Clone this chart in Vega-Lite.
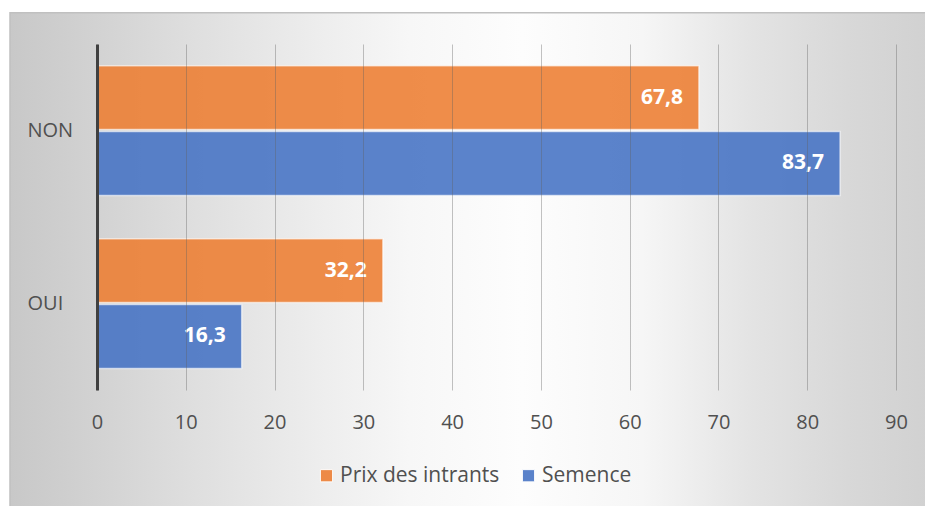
{
  "$schema": "https://vega.github.io/schema/vega-lite/v6.json",
  "width": 799,
  "height": 346,
  "autosize": {"type": "none"},
  "padding": {"left": 97, "top": 44, "right": 29, "bottom": 116},
  "background": "white",
  "config": {
    "font": "Open Sans",
    "locale": {"number": {"decimal": ",", "thousands": "\u00a0", "grouping": [3], "currency": ["", " €"]}},
    "view": {"stroke": null},
    "axisX": {
      "grid": true, "gridColor": "#606060", "gridOpacity": 0.38, "gridWidth": 1,
      "domain": false, "ticks": false, "labelPadding": 22, "labelFontSize": 20, "labelFlush": false,
      "labelColor": "#505050", "title": null
    },
    "axisY": {
      "grid": false, "ticks": false, "domain": true, "domainColor": "#404040", "domainWidth": 3,
      "labelAlign": "left", "labelPadding": 70, "labelFontSize": 20, "labelColor": "#505050",
      "title": null
    },
    "legend": {
      "orient": "none", "legendX": 219, "legendY": 421, "direction": "horizontal", "title": null, "labelFontSize": 21,
      "labelColor": "#505050", "symbolType": "square", "symbolSize": 150, "symbolOpacity": 0.88,
      "symbolStrokeColor": "#ffffff", "symbolStrokeWidth": 1, "columnPadding": 18, "labelOffset": 3
    }
  },
  "datasets": {
    "bars": [
      {"reponse": "NON", "serie": "Prix des intrants", "valeur": 67.8},
      {"reponse": "NON", "serie": "Semence", "valeur": 83.7},
      {"reponse": "OUI", "serie": "Prix des intrants", "valeur": 32.2},
      {"reponse": "OUI", "serie": "Semence", "valeur": 16.3}
    ]
  },
  "layer": [
    {
      "data": {"values": [{}]},
      "mark": {
        "type": "rect", "clip": false, "stroke": "#c0c0c0", "strokeWidth": 1.5,
        "fill": {
          "gradient": "linear", "x1": 0, "y1": 0, "x2": 1, "y2": 0,
          "stops": [
            {"offset": 0, "color": "#c8c8c8"},
            {"offset": 0.1, "color": "#d3d3d3"},
            {"offset": 0.2, "color": "#dfdfdf"},
            {"offset": 0.32, "color": "#ececec"},
            {"offset": 0.43, "color": "#f7f7f7"},
            {"offset": 0.55, "color": "#fdfdfd"},
            {"offset": 0.68, "color": "#f6f6f6"},
            {"offset": 0.8, "color": "#e3e3e3"},
            {"offset": 0.9, "color": "#d8d8d8"},
            {"offset": 1, "color": "#d0d0d0"}
          ]
        }
      },
      "encoding": {
        "x": {"datum": -9.8, "type": "quantitative", "scale": {"domain": [0, 90], "nice": false}, "axis": {"values": [0, 10, 20, 30, 40, 50, 60, 70, 80, 90], "zindex": 1}},
        "x2": {"datum": 95},
        "y": {"datum": 1.09, "type": "quantitative", "scale": {"domain": [0, 1], "nice": false, "zero": false}, "axis": null},
        "y2": {"datum": -0.5}
      }
    },
    {
      "data": {"name": "bars"},
      "encoding": {
        "y": {"field": "reponse", "type": "nominal", "sort": ["NON", "OUI"], "scale": {"paddingInner": 0.25, "paddingOuter": 0.125}, "axis": {"zindex": 2}},
        "yOffset": {"field": "serie", "type": "nominal", "sort": ["Prix des intrants", "Semence"], "scale": {"paddingInner": 0.03}},
        "x": {"field": "valeur", "type": "quantitative", "scale": {"domain": [0, 90], "nice": false}, "axis": {"values": [0, 10, 20, 30, 40, 50, 60, 70, 80, 90], "zindex": 1}}
      },
      "layer": [
        {
          "mark": {"type": "bar", "fillOpacity": 0.88, "stroke": "#ffffff", "strokeWidth": 1.5, "strokeOpacity": 0.6},
          "encoding": {
            "color": {"field": "serie", "type": "nominal", "sort": ["Prix des intrants", "Semence"], "scale": {"domain": ["Prix des intrants", "Semence"], "range": ["#ED7D31", "#4472C4"]}}
          }
        },
        {
          "mark": {"type": "text", "align": "right", "baseline": "middle", "dx": -16, "fontSize": 21, "fontWeight": "bold", "color": "#ffffff", "zindex": 3},
          "encoding": {
            "text": {"field": "valeur", "type": "quantitative", "format": ".1f"}
          }
        }
      ]
    }
  ],
  "resolve": {"scale": {"y": "independent"}}
}
